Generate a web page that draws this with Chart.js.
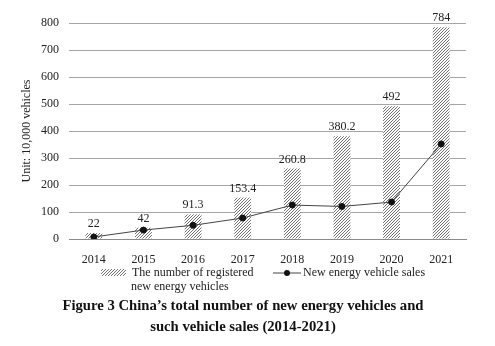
<!DOCTYPE html>
<html>
<head>
<meta charset="utf-8">
<script src="https://cdn.jsdelivr.net/npm/chart.js@4.4.1/dist/chart.umd.min.js"></script>
<style>
  html, body { margin: 0; padding: 0; background: #fff; }
  #wrap { width: 495px; height: 346px; position: relative; }
</style>
</head>
<body>
<div id="wrap"><canvas id="nev"></canvas></div>
<script>
const years = ["2014", "2015", "2016", "2017", "2018", "2019", "2020", "2021"];
const registered = [22, 42, 91.3, 153.4, 260.8, 380.2, 492, 784];
const sales = [7.5, 33.1, 50.7, 77.7, 125.6, 120.6, 136.7, 352.1];
const yTicks = [0, 100, 200, 300, 400, 500, 600, 700, 800];

const serif = "'Liberation Serif', 'Times New Roman', serif";

// diagonal hatch for the bars
function hatch() {
  const n = 3;
  const c = document.createElement("canvas");
  c.width = n; c.height = n;
  const g = c.getContext("2d");
  g.fillStyle = "#fff";
  g.fillRect(0, 0, n, n);
  g.strokeStyle = "#707070";
  g.lineWidth = 1;
  g.beginPath();
  g.moveTo(-1, n + 1); g.lineTo(n + 1, -1);
  g.moveTo(-1, 1); g.lineTo(1, -1);
  g.moveTo(n - 1, n + 1); g.lineTo(n + 1, n - 1);
  g.stroke();
  return g.createPattern(c, "repeat");
}
const stripes = hatch();

// value labels above bars, legend and caption
const extras = {
  id: "extras",
  afterDatasetsDraw(chart) {
    const ctx = chart.ctx;
    const meta = chart.getDatasetMeta(1);
    ctx.save();
    ctx.fillStyle = "#222";
    ctx.font = "12px " + serif;
    ctx.textAlign = "center";
    ctx.textBaseline = "alphabetic";
    meta.data.forEach((bar, i) => {
      ctx.fillText(String(registered[i]), bar.x, bar.y - 6);
    });
    ctx.restore();
  },
  afterDraw(chart) {
    const ctx = chart.ctx;
    ctx.save();
    // legend: hatched swatch
    ctx.fillStyle = stripes;
    ctx.fillRect(101, 269, 25, 7);
    ctx.fillStyle = "#222";
    ctx.font = "12px " + serif;
    ctx.textAlign = "left";
    ctx.textBaseline = "middle";
    ctx.fillText("The number of registered", 132, 273);
    ctx.fillText("new energy vehicles", 131, 287);
    // legend: line with marker
    ctx.strokeStyle = "#444";
    ctx.lineWidth = 1;
    ctx.beginPath();
    ctx.moveTo(273, 273); ctx.lineTo(301, 273);
    ctx.stroke();
    ctx.fillStyle = "#111";
    ctx.beginPath();
    ctx.arc(287, 273, 3, 0, Math.PI * 2);
    ctx.fill();
    ctx.fillStyle = "#222";
    ctx.fillText("New energy vehicle sales", 303, 273);
    // caption
    ctx.fillStyle = "#111";
    ctx.font = "bold 14.7px " + serif;
    ctx.textAlign = "center";
    ctx.fillText("Figure 3 China\u2019s total number of new energy vehicles and", 243, 306);
    ctx.fillText("such vehicle sales (2014-2021)", 243, 327);
    ctx.restore();
  }
};

new Chart(document.getElementById("nev"), {
  data: {
    labels: years,
    datasets: [{
      type: "line",
      label: "New energy vehicle sales",
      data: sales,
      order: 0,
      borderColor: "#444",
      borderWidth: 1,
      pointRadius: 3,
      pointBackgroundColor: "#111",
      pointBorderColor: "#111",
      tension: 0
    }, {
      type: "bar",
      label: "The number of registered new energy vehicles",
      data: registered,
      order: 1,
      backgroundColor: stripes,
      borderWidth: 0,
      categoryPercentage: 1,
      barPercentage: 0.34
    }]
  },
  options: {
    responsive: true,
    maintainAspectRatio: false,
    animation: false,
    layout: { padding: { top: 23, right: 29, bottom: 0, left: 0 } },
    plugins: {
      legend: { display: false },
      tooltip: { enabled: false }
    },
    scales: {
      x: {
        afterFit: (s) => { s.height = 107; },
        grid: { display: false },
        border: { display: true, color: "#8a8a8a", width: 1 },
        ticks: {
          color: "#222",
          padding: 6,
          font: { family: serif, size: 12 }
        }
      },
      y: {
        min: 0,
        max: 800,
        afterFit: (s) => { s.width = 69; },
        afterBuildTicks: (s) => { s.ticks = yTicks.map(v => ({ value: v })); },
        grid: { color: "#a5a5a5", lineWidth: 1, drawTicks: false },
        border: { display: false },
        ticks: {
          color: "#222",
          padding: 10,
          font: { family: serif, size: 12 }
        },
        title: {
          display: true,
          text: "Unit: 10,000 vehicles",
          color: "#222",
          padding: { top: 20, bottom: 0 },
          font: { family: serif, size: 12 }
        }
      }
    }
  },
  plugins: [extras]
});
</script>
</body>
</html>
